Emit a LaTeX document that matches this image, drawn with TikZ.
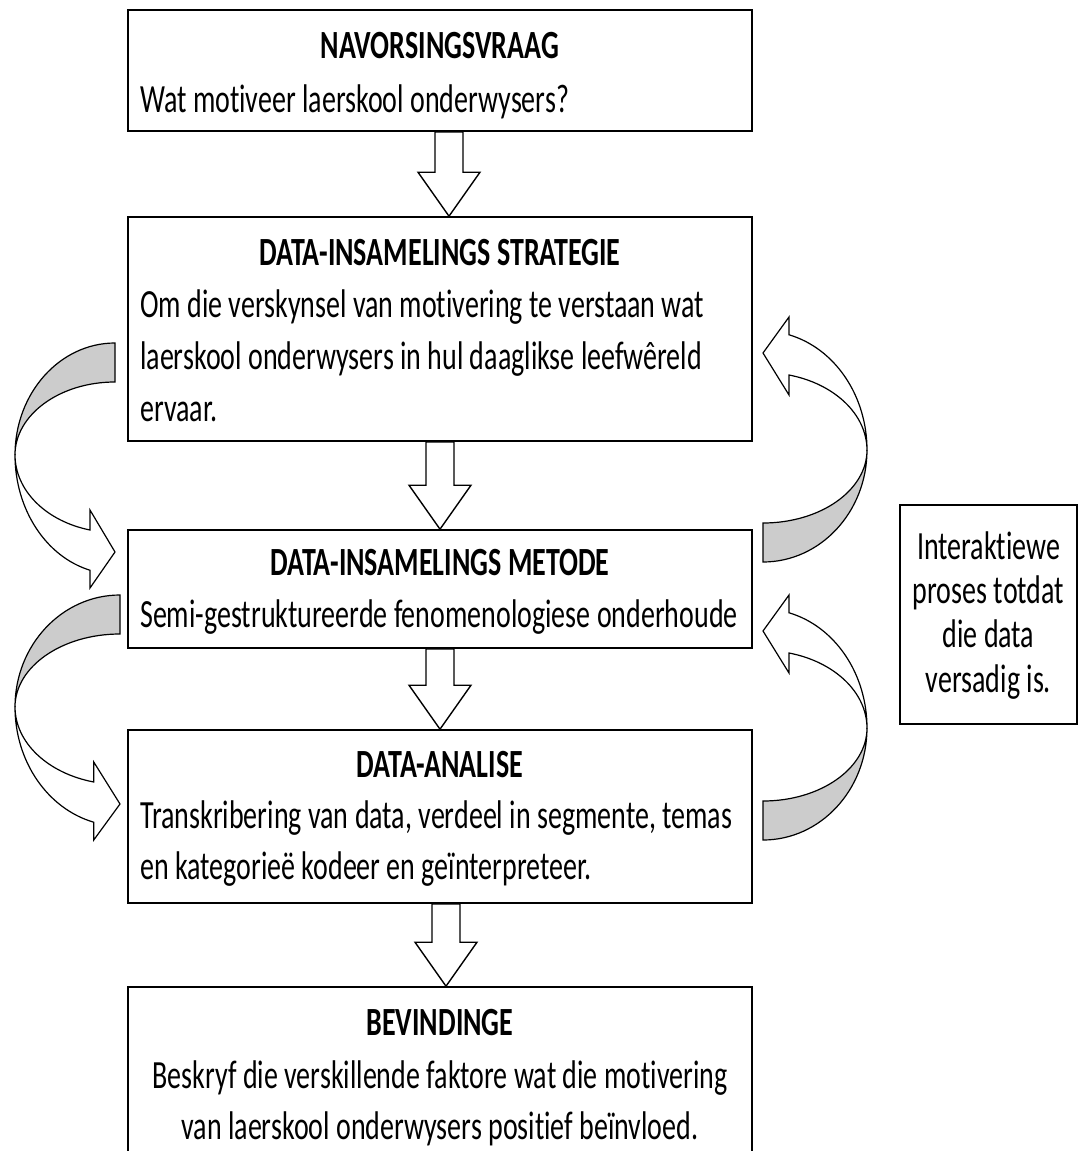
\documentclass[tikz,border=0pt]{standalone}
\usepackage{fontspec}
\setmainfont{Carlito}[FakeStretch=0.70,Ligatures=NoCommon]
\usetikzlibrary{calc}
\tikzset{
  box/.style={draw=black, line width=1.6pt, fill=white, inner sep=0pt, rectangle},
  ttl/.style={inner sep=0pt, anchor=base, font=\fontsize{40}{52}\selectfont\bfseries},
  bdy/.style={inner sep=0pt, anchor=base west, font=\fontsize{40}{52}\selectfont},
  bdyc/.style={inner sep=0pt, anchor=base, font=\fontsize{40}{52}\selectfont},
  blockar/.style={draw=black, fill=white, line width=1.4pt, line join=miter},
  bandgrey/.style={fill=black!20, draw=black, line width=1.2pt},
  bandwhite/.style={fill=white, draw=black, line width=1.2pt},
  loopar/.pic={
    \path[bandgrey] (0,0) arc[start angle=180,end angle=270,x radius=100,y radius=112]
      -- (100,-73) arc[start angle=270,end angle=180,x radius=100,y radius=73] -- cycle;
    \path[bandwhite] (0,0) arc[start angle=180,end angle=104.5,x radius=100,y radius=119]
      -- (75,133) -- (100,97) -- (75,55) -- (75,75)
      arc[start angle=104.5,end angle=180,x radius=100,y radius=77.5] -- cycle;
  }
}
\newcommand\bdown[3]{%
  \draw[blockar] let \p1=(#1.south), \p2=(#2.north) in
    ({#3-14},\y1) -- ({#3-14},{\y2+44pt}) -- ({#3-31},{\y2+44pt}) -- (#3,\y2)
    -- ({#3+31},{\y2+44pt}) -- ({#3+14},{\y2+44pt}) -- ({#3+14},\y1) -- cycle;}
\begin{document}
\begin{tikzpicture}[x=1pt,y=-1pt]
\useasboundingbox (0,0) rectangle (1079,1151);
\clip (0,0) rectangle (1079,1151);
\fill[white] (0,0) rectangle (1079,1151);

% boxes
\node[box, minimum width=624pt, minimum height=121pt] (b1) at (440,70.5) {};
\node[box, minimum width=624pt, minimum height=224pt] (b2) at (440,329) {};
\node[box, minimum width=624pt, minimum height=118pt] (b3) at (440,589) {};
\node[box, minimum width=624pt, minimum height=173pt] (b4) at (440,816.5) {};
\node[box, minimum width=624pt, minimum height=183pt] (b5) at (440,1078.5) {};
\node[box, minimum width=177pt, minimum height=219pt] (side) at (988.5,614.5) {};

% texts
\node[ttl] (t1) at (440,58) {NAVORSINGSVRAAG};
\node[bdy] (t1a) at (140,112) {Wat motiveer laerskool onderwysers?};

\node[ttl] (t2) at (440,265) {DATA-INSAMELINGS STRATEGIE};
\node[bdy] (t2a) at (140,317) {Om die verskynsel van motivering te verstaan wat};
\node[bdy] (t2b) at (140,369) {laerskool onderwysers in hul daaglikse leefwêreld};
\node[bdy] (t2c) at (140,421) {ervaar.};

\node[ttl] (t3) at (440,575) {DATA-INSAMELINGS METODE};
\node[bdy] (t3a) at (140,627) {Semi-gestruktureerde fenomenologiese onderhoude};

\node[ttl] (t4) at (440,777) {DATA-ANALISE};
\node[bdy] (t4a) at (140,828) {Transkribering van data, verdeel in segmente, temas};
\node[bdy] (t4b) at (140,879) {en kategorieë kodeer en geïnterpreteer.};

\node[ttl] (t5) at (440,1035) {BEVINDINGE};
\node[bdyc] (t5a) at (440,1088) {Beskryf die verskillende faktore wat die motivering};
\node[bdyc] (t5b) at (440,1139) {van laerskool onderwysers positief beïnvloed.};

\node[bdyc] (s1) at (988.5,559) {Interaktiewe};
\node[bdyc] (s2) at (988.5,603) {proses totdat};
\node[bdyc] (s3) at (988.5,647) {die data};
\node[bdyc] (s4) at (988.5,692) {versadig is.};

% down arrows
\bdown{b1}{b2}{449}
\bdown{b2}{b3}{440}
\bdown{b3}{b4}{440}
\bdown{b4}{b5}{446}

% loop arrows
\pic at (15,455) {loopar};
\pic[xscale=1.05] at (15,707) {loopar};
\pic[rotate=180,xscale=1.04] at (867,450) {loopar};
\pic[rotate=180,xscale=1.04] at (867,728) {loopar};
\end{tikzpicture}
\end{document}
